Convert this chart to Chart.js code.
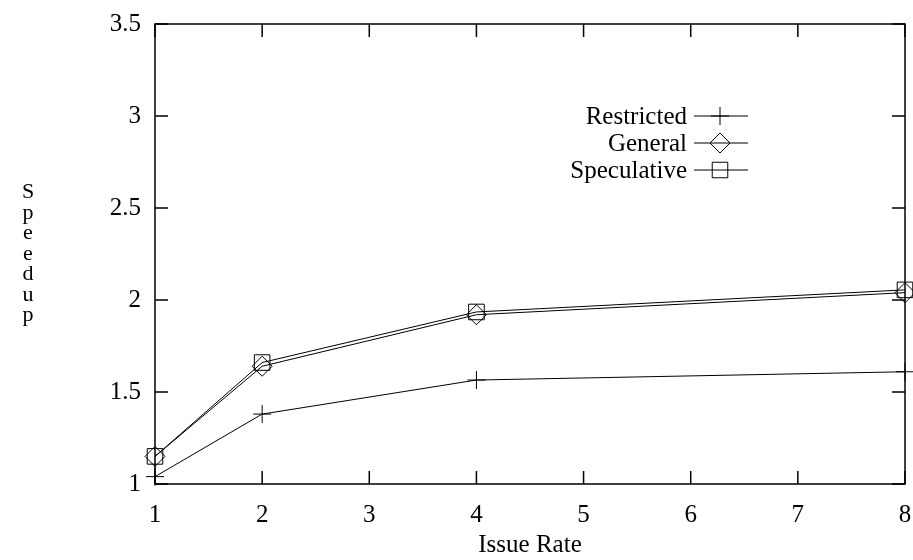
<!DOCTYPE html>
<html>
<head>
<meta charset="utf-8">
<script src="https://cdn.jsdelivr.net/npm/chart.js@4"></script>
<style>
  html, body { margin: 0; padding: 0; background: #fff; }
</style>
</head>
<body>
<canvas id="chart" width="913" height="560"></canvas>
<script>
const issueRates = [1, 2, 4, 8];
const restricted = [1.04, 1.38, 1.565, 1.61];
const general = [1.15, 1.64, 1.92, 2.04];
const speculative = [1.15, 1.66, 1.935, 2.055];
const xTicks = [1, 2, 3, 4, 5, 6, 7, 8];
const yTicks = [1, 1.5, 2, 2.5, 3, 3.5];
const seriesNames = ['Restricted', 'General', 'Speculative'];
const yTitle = 'Speedup';

const FONT = '"Liberation Serif", "DejaVu Serif", serif';

function toPoints(vals) {
    return issueRates.map((x, i) => ({ x: x, y: vals[i] }));
}

// frame, inward ticks, vertical y title and legend
const framePlugin = {
    id: 'frame',
    afterDraw(chart) {
        const ctx = chart.ctx;
        const a = chart.chartArea;
        const xs = chart.scales.x;
        const ys = chart.scales.y;
        ctx.save();
        ctx.strokeStyle = '#000';
        ctx.lineWidth = 1.5;
        ctx.strokeRect(a.left, a.top, a.right - a.left, a.bottom - a.top);
        const len = 13;
        ctx.beginPath();
        xTicks.forEach(v => {
            const px = xs.getPixelForValue(v);
            ctx.moveTo(px, a.bottom); ctx.lineTo(px, a.bottom - len);
            ctx.moveTo(px, a.top); ctx.lineTo(px, a.top + len);
        });
        yTicks.forEach(v => {
            const py = ys.getPixelForValue(v);
            ctx.moveTo(a.left, py); ctx.lineTo(a.left + len, py);
            ctx.moveTo(a.right, py); ctx.lineTo(a.right - len, py);
        });
        ctx.stroke();

        // vertical stacked y title
        ctx.fillStyle = '#000';
        ctx.font = '22px ' + FONT;
        ctx.textAlign = 'center';
        ctx.textBaseline = 'middle';
        const letters = yTitle.split('');
        const step = 20.5;
        const cy = (a.top + a.bottom) / 2;
        letters.forEach((ch, i) => {
            ctx.fillText(ch, 28, cy + (i - (letters.length - 1) / 2) * step);
        });

        // legend
        ctx.font = '25px ' + FONT;
        ctx.textAlign = 'right';
        chart.data.datasets.forEach((ds, i) => {
            const y = 116 + i * 27;
            ctx.fillStyle = '#000';
            ctx.fillText(ds.label, 687, y + 1);
            ctx.lineWidth = 1;
            ctx.beginPath();
            ctx.moveTo(694, y); ctx.lineTo(748, y);
            ctx.stroke();
            ctx.fillStyle = 'rgba(0,0,0,0)';
            Chart.helpers.drawPoint(ctx, {
                pointStyle: ds.pointStyle,
                radius: ds.pointRadius,
                rotation: 0,
                borderWidth: 1
            }, 720, y);
        });
        ctx.restore();
    }
};

const baseDs = {
    borderColor: '#000',
    backgroundColor: 'rgba(0,0,0,0)',
    pointBorderColor: '#000',
    pointBackgroundColor: 'rgba(0,0,0,0)',
    borderWidth: 1,
    pointBorderWidth: 1,
    tension: 0,
    clip: false
};

new Chart(document.getElementById('chart'), {
    type: 'line',
    data: {
        datasets: [
            Object.assign({}, baseDs, { label: seriesNames[0], data: toPoints(restricted), pointStyle: 'cross', pointRadius: 9 }),
            Object.assign({}, baseDs, { label: seriesNames[1], data: toPoints(general), pointStyle: 'rectRot', pointRadius: 10 }),
            Object.assign({}, baseDs, { label: seriesNames[2], data: toPoints(speculative), pointStyle: 'rect', pointRadius: 11 })
        ]
    },
    options: {
        responsive: false,
        animation: false,
        layout: { autoPadding: false, padding: { top: 24, right: 8, left: 0, bottom: 0 } },
        plugins: {
            legend: { display: false },
            tooltip: { enabled: false }
        },
        scales: {
            x: {
                type: 'linear',
                min: 1, max: 8,
                afterBuildTicks(scale) { scale.ticks = xTicks.map(v => ({ value: v })); },
                grid: { display: false, drawTicks: false },
                border: { display: false },
                ticks: { color: '#000', padding: 16, font: { family: FONT, size: 25 } },
                title: { display: true, text: 'Issue Rate', color: '#000', padding: { top: 0, bottom: 0 }, font: { family: FONT, size: 25 } },
                afterFit(scale) {
                    scale.height = 76;
                    scale.paddingLeft = 0;
                    scale.paddingRight = 0;
                }
            },
            y: {
                type: 'linear',
                min: 1, max: 3.5,
                afterBuildTicks(scale) { scale.ticks = yTicks.map(v => ({ value: v })); },
                grid: { display: false, drawTicks: false },
                border: { display: false },
                ticks: {
                    color: '#000', padding: 14, font: { family: FONT, size: 25 },
                    callback: v => String(v)
                },
                afterFit(scale) {
                    scale.width = 155;
                    scale.paddingTop = 0;
                    scale.paddingBottom = 0;
                }
            }
        }
    },
    plugins: [framePlugin]
});
</script>
</body>
</html>
